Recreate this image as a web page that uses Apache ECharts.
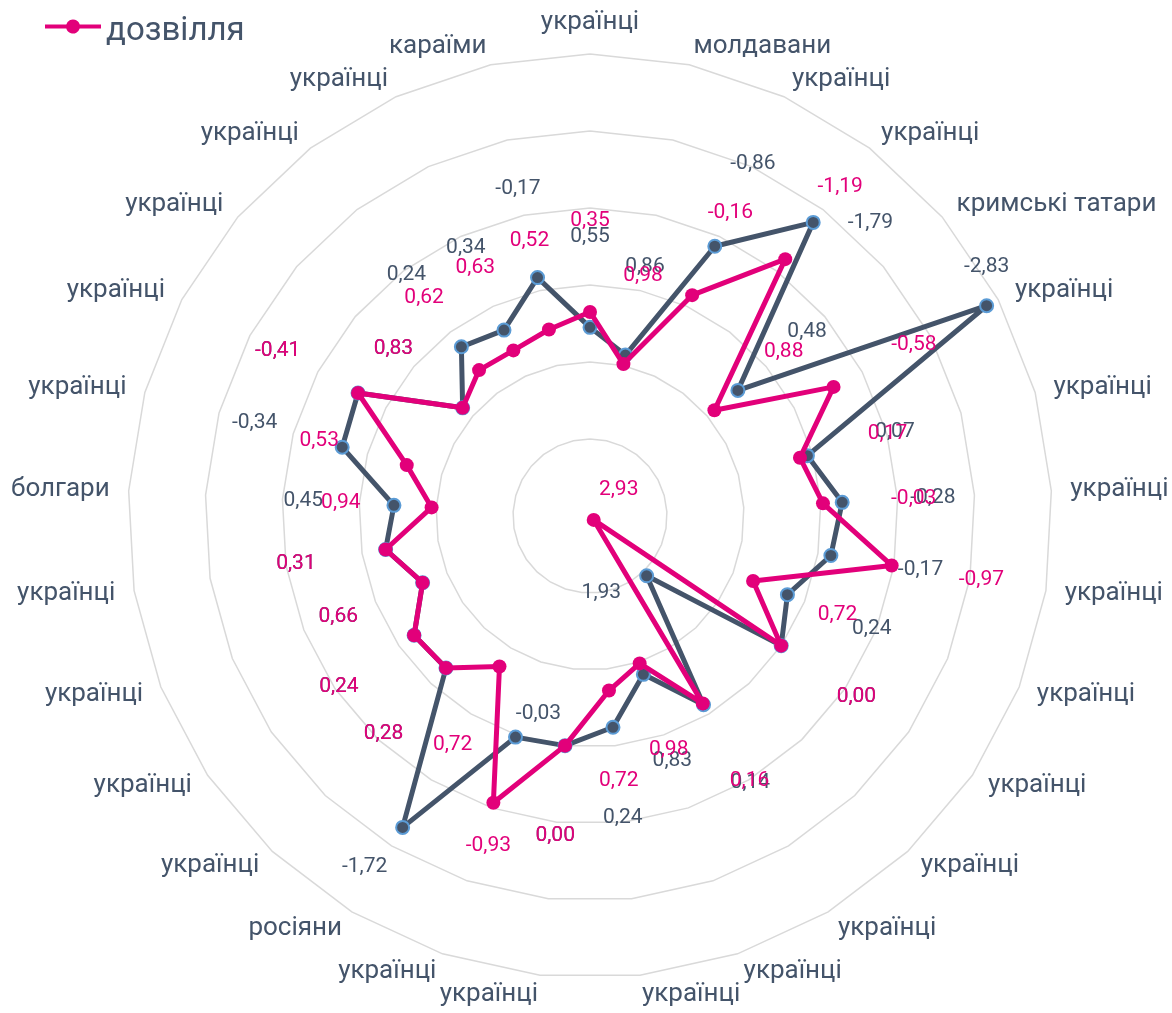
<!DOCTYPE html>
<html>
<head>
<meta charset="utf-8">
<title>дозвілля</title>
<script src="https://cdn.jsdelivr.net/npm/echarts@6/dist/echarts.min.js"></script>
<style>
html, body { margin: 0; padding: 0; background: #fff; }
#chart { width: 1172px; height: 1013px; }
</style>
</head>
<body>
<div id="chart"></div>
<script>
// categories, clockwise from the top
var categories = ['українці', 'молдавани', 'українці', 'українці', 'кримські татари', 'українці',
  'українці', 'українці', 'українці', 'українці', 'українці', 'українці', 'українці', 'українці',
  'українці', 'українці', 'українці', 'росіяни', 'українці', 'українці', 'українці', 'українці',
  'болгари', 'українці', 'українці', 'українці', 'українці', 'українці', 'караїми'];

var dozvillia = [0.35, 0.98, -0.16, -1.19, 0.88, -0.58, 0.17, -0.03, -0.97, 0.72, 0.00, 2.93,
  0.16, 0.98, 0.72, 0.00, -0.93, 0.72, 0.28, 0.24, 0.66, 0.31, 0.94, 0.53, -0.41, 0.83, 0.62, 0.63, 0.52];
var second = [0.55, 0.86, -0.86, -1.79, 0.48, -2.83, 0.07, -0.28, -0.17, 0.24, 0.00, 1.93,
  0.14, 0.83, 0.24, 0.00, -0.03, -1.72, 0.28, 0.24, 0.66, 0.31, 0.45, -0.34, -0.41, 0.83, 0.24, 0.34, -0.17];

// radial scale: 3 in the centre, -3 on the outer ring
var axisTop = 3;
var axisBottom = -3;

var PINK = '#e2007a', SLATE = '#44546a', RIM = '#5b9bd5';
var FONT = 'Roboto, sans-serif';
var n = categories.length;

// echarts radar goes counter-clockwise, so flip the order
function toEc(arr) { return [arr[0]].concat(arr.slice(1).reverse()); }
function srcIdx(j) { return j === 0 ? 0 : n - j; }
function depth(arr) { return toEc(arr).map(function (v) { return axisTop - v; }); }
function fmt(v) { return v.toFixed(2).replace('.', ','); }

// labels that sit off the normal radial spot
var callouts = [
  { arr: dozvillia, idx: 11, color: PINK, position: 'top', distance: 13, offset: [25, 0] },
  { arr: second, idx: 11, color: SLATE, position: 'left', distance: 19, offset: [0, 17] },
  { arr: second, idx: 5, color: SLATE, position: 'top', distance: 22, offset: [0, 0] },
  { arr: second, idx: 3, color: SLATE, position: 'right', distance: 28, offset: [0, 0] },
  { arr: second, idx: 17, color: SLATE, position: 'bottom', distance: 22, offset: [-38, 0] },
  { arr: dozvillia, idx: 16, color: PINK, position: 'bottom', distance: 26, offset: [-5, 0] },
  { arr: second, idx: 16, color: SLATE, position: 'top', distance: 6, offset: [23, 0] }
];
var labelShift = 1.18;

function labelSeries(arr, color) {
  var skip = callouts.filter(function (c) { return c.arr === arr; }).map(function (c) { return c.idx; });
  return {
    type: 'radar',
    silent: true,
    z: 5,
    symbol: 'circle',
    symbolSize: 1,
    lineStyle: { width: 0, opacity: 0 },
    itemStyle: { color: 'rgba(0,0,0,0)' },
    label: {
      show: true,
      position: 'inside',
      color: color,
      fontFamily: FONT,
      fontSize: 21,
      formatter: function (p) {
        var i = srcIdx(p.dimensionIndex);
        return skip.indexOf(i) >= 0 ? '' : fmt(arr[i]);
      }
    },
    data: [{ value: depth(arr).map(function (t) { return t + labelShift; }) }]
  };
}

var chart = echarts.init(document.getElementById('chart'));

chart.setOption({
  backgroundColor: '#fff',
  animation: false,
  legend: {
    data: ['дозвілля'],
    left: 45,
    top: 15,
    padding: 0,
    itemWidth: 56,
    itemHeight: 24,
    // line + marker in the upper part, the tiny tail keeps the box 24 high
    icon: 'path://M0,5 L21.3,5 A7,7 0 0 1 34.7,5 L56,5 L56,9 L34.7,9 A7,7 0 0 1 21.3,9 L0,9 Z M28,24 L28.01,24 L28,23.99 Z',
    itemStyle: { color: PINK, borderWidth: 0 },
    textStyle: { color: SLATE, fontSize: 33, fontFamily: FONT }
  },
  radar: {
    center: [590, 516],
    radius: 462,
    startAngle: 90,
    shape: 'polygon',
    splitNumber: 6,
    nameGap: 19,
    indicator: toEc(categories).map(function (c) {
      return { name: c, min: 0, max: axisTop - axisBottom };
    }),
    axisName: { color: SLATE, fontSize: 26, fontFamily: FONT },
    axisLine: { show: false },
    axisTick: { show: false },
    axisLabel: { show: false },
    splitLine: { lineStyle: { color: '#d9d9d9', width: 1.5 } },
    splitArea: { show: false }
  },
  series: [{
    name: 'ряд 2',
    type: 'radar',
    z: 2,
    symbol: 'circle',
    symbolSize: 13,
    lineStyle: { color: SLATE, width: 5 },
    itemStyle: { color: SLATE, borderColor: RIM, borderWidth: 2 },
    data: [{ value: depth(second) }]
  }, {
    name: 'дозвілля',
    type: 'radar',
    z: 3,
    symbol: 'circle',
    symbolSize: 14,
    lineStyle: { color: PINK, width: 5 },
    itemStyle: { color: PINK },
    data: [{ value: depth(dozvillia) }]
  },
  labelSeries(second, SLATE),
  labelSeries(dozvillia, PINK),
  {
    type: 'radar',
    silent: true,
    z: 6,
    symbol: 'circle',
    symbolSize: 13,
    lineStyle: { width: 0, opacity: 0 },
    itemStyle: { color: 'rgba(0,0,0,0)' },
    data: callouts.map(function (c) {
      return {
        value: depth(c.arr),
        label: {
          show: true,
          position: c.position,
          distance: c.distance,
          offset: c.offset,
          color: c.color,
          fontFamily: FONT,
          fontSize: 21,
          formatter: function (p) {
            return srcIdx(p.dimensionIndex) === c.idx ? fmt(c.arr[c.idx]) : '';
          }
        }
      };
    })
  }]
});
</script>
</body>
</html>
